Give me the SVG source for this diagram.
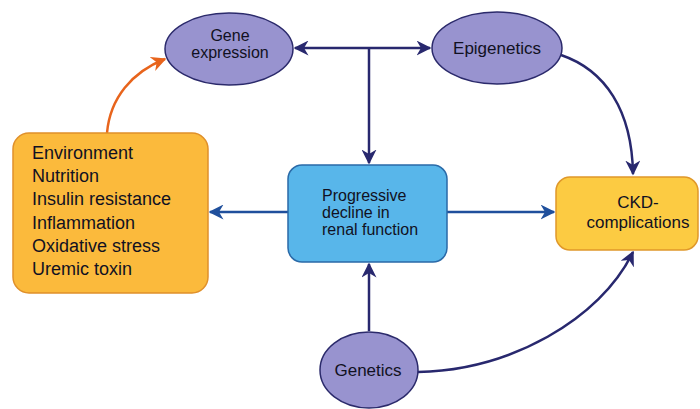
<svg xmlns="http://www.w3.org/2000/svg" width="700" height="409" viewBox="0 0 700 409">
<defs>
<style>
.ell{fill:#9893cf;stroke:#2b2a6b;stroke-width:1.5}
.t{font-family:"Liberation Sans",Arial,sans-serif;fill:#111122}
.navy{fill:none;stroke:#28286e;stroke-width:2.5}
.blue{fill:none;stroke:#1f4f9c;stroke-width:2.5}
.org{fill:none;stroke:#e8641c;stroke-width:2.5}
</style>
<marker id="an" viewBox="0 0 10 10" refX="9" refY="5" markerWidth="6" markerHeight="6" orient="auto-start-reverse"><path d="M0,0 L10,5 L0,10 L3,5 z" fill="#28286e"/></marker>
<marker id="ab" viewBox="0 0 10 10" refX="9" refY="5" markerWidth="6" markerHeight="6" orient="auto-start-reverse"><path d="M0,0 L10,5 L0,10 L3,5 z" fill="#1f4f9c"/></marker>
<marker id="ao" viewBox="0 0 10 10" refX="9" refY="5" markerWidth="6" markerHeight="6" orient="auto-start-reverse"><path d="M0,0 L10,5 L0,10 L3,5 z" fill="#e8641c"/></marker>
</defs>
<rect width="700" height="409" fill="#ffffff"/>
<g id="connectors">
<path class="navy" d="M295,48 L430,48" marker-start="url(#an)" marker-end="url(#an)"/>
<path class="navy" d="M369,48 L369,163" marker-end="url(#an)"/>
<path class="navy" d="M369,331 L369,264" marker-end="url(#an)"/>
<path class="blue" d="M288,212 L210,212" marker-end="url(#ab)"/>
<path class="blue" d="M447,212 L554,212" marker-end="url(#ab)"/>
<path class="navy" d="M561,55 C605,70 632,110 633,174" marker-end="url(#an)"/>
<path class="navy" d="M418,372 C510,370 600,320 633,252" marker-end="url(#an)"/>
<path class="org" d="M107,133 C110,98 132,72 165,59" marker-end="url(#ao)"/>
</g>
<g id="gene-expression">
<ellipse class="ell" cx="229" cy="49" rx="64" ry="36"/>
<text class="t" x="230" y="41" font-size="16" text-anchor="middle">Gene</text>
<text class="t" x="230" y="58" font-size="16" text-anchor="middle">expression</text>
</g>
<g id="epigenetics">
<ellipse class="ell" cx="497" cy="48" rx="65" ry="36"/>
<text class="t" x="497" y="54" font-size="17" text-anchor="middle">Epigenetics</text>
</g>
<g id="environment">
<rect x="13" y="133" width="195" height="160" rx="16" fill="#fbba3c" stroke="#e0902a" stroke-width="1.5"/>
<g class="t" font-size="18">
<text x="32" y="159">Environment</text>
<text x="32" y="182">Nutrition</text>
<text x="32" y="205">Insulin resistance</text>
<text x="32" y="229">Inflammation</text>
<text x="32" y="252">Oxidative stress</text>
<text x="32" y="275">Uremic toxin</text>
</g>
</g>
<g id="progressive">
<rect x="288" y="165" width="159" height="97" rx="14" fill="#58b6ea" stroke="#2a6aa8" stroke-width="1.5"/>
<g class="t" font-size="16">
<text x="322" y="201">Progressive</text>
<text x="322" y="218">decline in</text>
<text x="322" y="235">renal function</text>
</g>
</g>
<g id="ckd">
<rect x="556" y="177" width="142" height="73" rx="14" fill="#fccb42" stroke="#e0982a" stroke-width="1.5"/>
<text class="t" x="638" y="208" font-size="17" text-anchor="middle">CKD-</text>
<text class="t" x="638" y="228" font-size="17" text-anchor="middle">complications</text>
</g>
<g id="genetics">
<ellipse class="ell" cx="369" cy="370" rx="49" ry="38"/>
<text class="t" x="368" y="376" font-size="17" text-anchor="middle">Genetics</text>
</g>
</svg>
